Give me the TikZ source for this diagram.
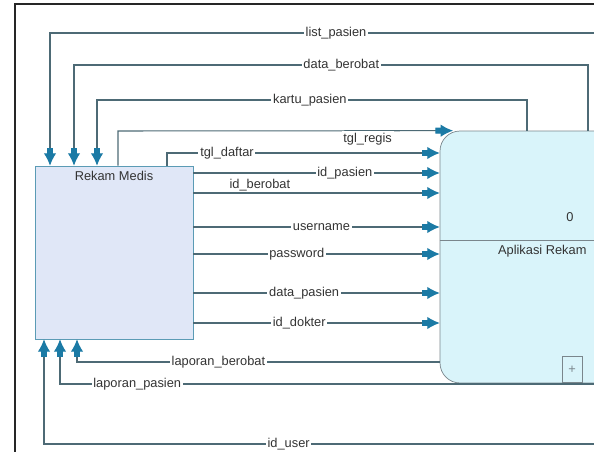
\documentclass[tikz,border=0pt]{standalone}
\usepackage{fontspec}
\setmainfont{Liberation Sans}
\usepackage{xcolor}
\usetikzlibrary{arrows.meta,positioning}

\definecolor{flowline}{HTML}{4D6A75}
\definecolor{tipfill}{HTML}{1B7AA5}
\definecolor{entline}{HTML}{5B9BB5}
\definecolor{entfill}{HTML}{E0E7F7}
\definecolor{procline}{HTML}{7A868C}
\definecolor{procfill}{HTML}{D9F4FA}

\begin{document}
\begin{tikzpicture}[
  x=0.02cm, y=-0.02cm,
  font=\fontsize{7.3}{8.5}\selectfont,
  ent/.style={draw=entline, fill=entfill, minimum width=3.16cm,
              minimum height=3.46cm, inner sep=0pt},
  proc/.style={draw=procline, fill=procfill, rounded corners=0.4cm,
               minimum width=5.12cm, minimum height=5.04cm, inner sep=0pt},
  flow/.style={draw=flowline, line width=0.6pt,
               -{Rectangle[length=3.5pt, width=3.4pt, color=tipfill, sep=-0.5pt]
                 Latex[length=7pt, width=7pt, color=tipfill]}},
  lbl/.style={fill=white, inner sep=1pt, text=black!80},
  txt/.style={inner sep=1pt, text=black!80}
]
\clip (0,0) rectangle (594,452);
\fill[white] (0,0) rectangle (594,452);
% frame
\draw[line width=1.3pt, black!85] (15,452) -- (15,4) -- (594,4);

% entity and process
\node[ent] (rm) at (114,252.5) {};
\node[txt, below=2pt of rm.north] (rmname) {Rekam Medis};
\node[proc] (app) at (568,257) {};
\draw[procline] (app.west |- 0,240) -- (app.east |- 0,240);
\node[txt] (appnum) at (570,217) {0};
\node[txt, anchor=west] (appname) at (496,251) {Aplikasi Rekam};
\node[draw=procline, minimum width=0.4cm, minimum height=0.52cm,
      inner sep=0pt, anchor=south, text=procline] (plus) at (572,383) {+};

% free ends off the right edge
\coordinate (lpsrc) at (600,33);
\coordinate (lapsrc) at (600,384);
\coordinate (usrsrc) at (600,444);

% flows into Rekam Medis (top)
\draw[flow] (lpsrc) -- (lpsrc -| 50,0) node[lbl, pos=.48] {list\_pasien}
  -- (rm.north -| 50,0);
\draw[flow] (app.north -| 588,0) -- (588,65) -- (74,65)
  node[lbl, pos=.48] {data\_berobat} -- (rm.north -| 74,0);
\draw[flow] (app.north -| 527,0) -- (527,100) -- (97,100)
  node[lbl, pos=.505] {kartu\_pasien} -- (rm.north -| 97,0);

% flows into the process
\draw[flow] (rm.north -| 118,0) -- (118,131) -- (app.north -| 453,0)
  node[lbl, pos=.745, anchor=north] {tgl\_regis};
\draw[flow] (rm.north -| 167,0) -- (167,153) -- (app.west |- 0,153)
  node[lbl, pos=.22] {tgl\_daftar};
\foreach \y/\txt/\p/\a in {173/id\_pasien/.615/center,
                           193/id\_berobat/.27/south,
                           227/username/.52/center,
                           254/password/.42/center,
                           293/data\_pasien/.45/center,
                           323/id\_dokter/.43/center}
  \draw[flow] (rm.east |- 0,\y) -- (app.west |- 0,\y)
    node[lbl, pos=\p, anchor=\a] {\txt};

% flows into Rekam Medis (bottom)
\draw[flow] (app.west |- 0,362) -- (77,362)
  node[lbl, pos=.61] {laporan\_berobat} -- (rm.south -| 77,0);
\draw[flow] (lapsrc) -- (60,384)
  node[lbl, pos=.857] {laporan\_pasien} -- (rm.south -| 60,0);
\draw[flow] (usrsrc) -- (44,444)
  node[lbl, pos=.56] {id\_user} -- (rm.south -| 44,0);
\end{tikzpicture}
\end{document}
